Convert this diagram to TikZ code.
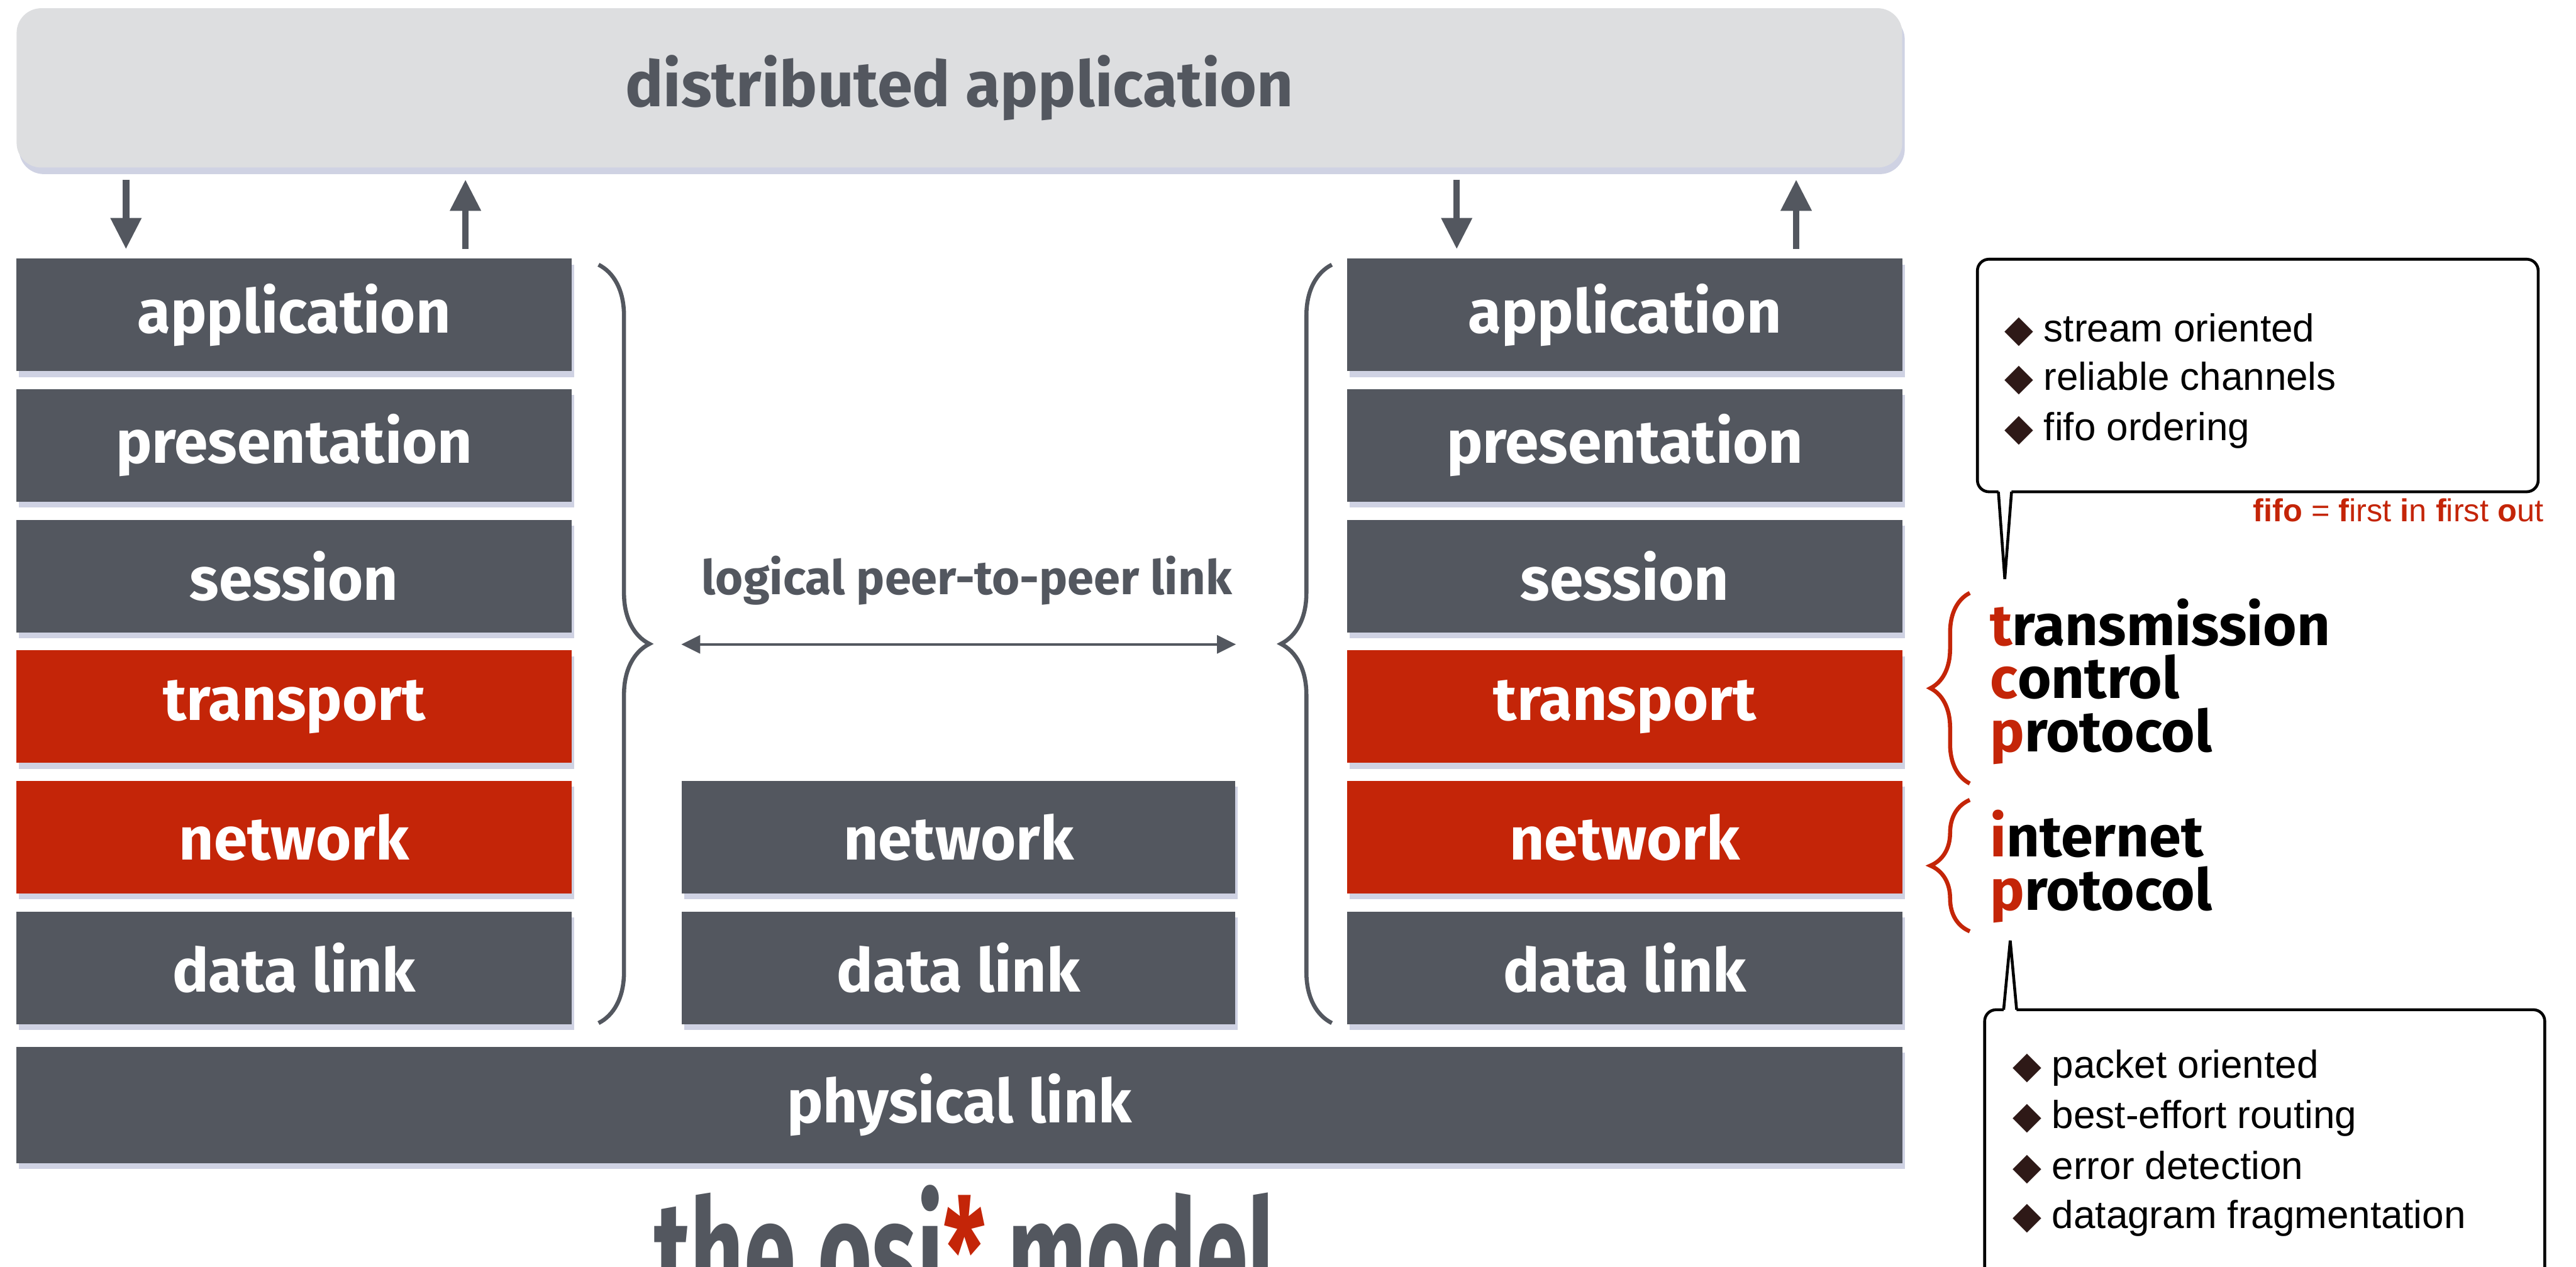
\documentclass[tikz,border=0pt]{standalone}
\usepackage{fontspec}
\usepackage{graphicx}
\setmainfont{Fira Sans}
\newfontfamily\helv{Liberation Sans}
\newfontfamily\dejavu{DejaVu Sans}
\usetikzlibrary{arrows.meta,positioning,shadows,decorations.pathreplacing}

\definecolor{osigray}{HTML}{53575F}
\definecolor{osired}{HTML}{C42508}
\definecolor{barfill}{HTML}{DDDEE0}
\definecolor{shade}{HTML}{9FA5C8}
\definecolor{diam}{HTML}{2E1917}

\newcommand{\bul}{{\dejavu\fontsize{13}{13}\selectfont\color{diam}\char"25C6}\hspace{3.5pt}}

\tikzset{
  layer/.style={fill=osigray, inner sep=0pt, minimum width=6.76cm, minimum height=1.37cm,
    text=white, font=\fontsize{21}{21}\selectfont\bfseries,
    drop shadow={shadow xshift=0.03cm, shadow yshift=-0.07cm, fill=shade, opacity=0.5}},
  hot/.style={layer, fill=osired},
  flow/.style={-{Triangle[width=0.36cm,length=0.38cm]}, line width=0.08cm, draw=osigray,
    shorten <=0.14cm, shorten >=0.11cm},
  flowup/.style={flow, {Triangle[width=0.36cm,length=0.38cm]}-},
  stackbrace/.style={decorate, decoration={brace, amplitude=0.62cm}, draw=osigray, line width=0.05cm},
  redbrace/.style={decorate, decoration={brace, amplitude=0.48cm}, draw=osired, line width=0.05cm},
  note/.style={draw=black, line width=0.035cm, rounded corners=0.14cm, fill=white, inner sep=0pt},
  item/.style={anchor=base west, inner sep=0pt, font=\helv\fontsize{13.5}{13.5}\selectfont},
  acro/.style={anchor=base west, inner sep=0pt, font=\fontsize{20}{20}\selectfont\bfseries}
}

\begin{document}
\begin{tikzpicture}[x=0.02cm,y=0.02cm]
\useasboundingbox (0,0) rectangle (1568,-771);
\clip (0,0) rectangle (1568,-771);

% distributed application
\node[fill=barfill, rounded corners=0.3cm, minimum width=22.96cm, minimum height=1.94cm,
  text=osigray, font=\fontsize{22}{22}\selectfont\bfseries,
  drop shadow={shadow xshift=0.03cm, shadow yshift=-0.08cm, fill=shade, opacity=0.5}]
  (dapp) at (584,-53.5) {distributed application};

% left stack
\node[layer] (appL) at (179,-191.75) {application};
\node[layer] (prL) at (179,-271.25) {presentation};
\node[layer] (seL) at (179,-350.75) {session};
\node[hot] (trL) at (179,-430.25) {transport};
\node[hot] (nwL) at (179,-509.75) {network};
\node[layer] (dlL) at (179,-589.25) {data link};

% router in the middle
\node[layer, minimum width=6.74cm] (nwM) at (583.5,-509.75) {network};
\node[layer, minimum width=6.74cm] (dlM) at (583.5,-589.25) {data link};

% right stack
\node[layer] (appR) at (989,-191.75) {application};
\node[layer] (prR) at (989,-271.25) {presentation};
\node[layer] (seR) at (989,-350.75) {session};
\node[hot] (trR) at (989,-430.25) {transport};
\node[hot] (nwR) at (989,-509.75) {network};
\node[layer] (dlR) at (989,-589.25) {data link};

\node[layer, minimum width=22.96cm, minimum height=1.42cm] (phys) at (584,-672.75) {physical link};

% arrows to the application
\coordinate (dnL) at ([shift={(67,0)}]appL.north west);
\coordinate (upL) at ([shift={(-65,0)}]appL.north east);
\coordinate (dnR) at ([shift={(67,0)}]appR.north west);
\coordinate (upR) at ([shift={(-65,0)}]appR.north east);
\draw[flow] (dnL |- dapp.south) -- (dnL);
\draw[flowup] (upL |- dapp.south) -- (upL);
\draw[flow] (dnR |- dapp.south) -- (dnR);
\draw[flowup] (upR |- dapp.south) -- (upR);

% braces and peer link
\draw[stackbrace] ([shift={(16,-4)}]appL.north east) -- ([shift={(16,1)}]dlL.south east);
\draw[stackbrace] ([shift={(-9,1)}]dlR.south west) -- ([shift={(-9,-4)}]appR.north west);
\node[text=osigray, font=\fontsize{16.5}{16.5}\selectfont\bfseries, anchor=base, inner sep=0pt]
  (peertxt) at (588.5,-361.8) {logical peer-to-peer link};
\coordinate (peer) at (583.5,-392.3);
\draw[{Triangle[width=0.22cm,length=0.23cm]}-{Triangle[width=0.22cm,length=0.23cm]},
  draw=osigray, line width=0.03cm] (peer -| nwM.west) -- (peer -| nwM.east);

% tcp / ip
\node[acro] (tcp1) at (1211,-393) {{\color{osired}t}ransmission};
\node[acro] (tcp2) at (1211,-425) {{\color{osired}c}ontrol};
\node[acro] (tcp3) at (1211,-457.6) {{\color{osired}p}rotocol};
\node[acro] (ip1) at (1211,-521.6) {{\color{osired}i}nternet};
\node[acro] (ip2) at (1211,-554) {{\color{osired}p}rotocol};
\coordinate (tcpTop) at (1199,-361);
\coordinate (tcpBot) at (1199,-477);
\coordinate (ipTop) at (1199,-487);
\coordinate (ipBot) at (1199,-567);
\draw[redbrace] (tcpBot) -- (tcpTop);
\draw[redbrace] (ipBot) -- (ipTop);

% tcp note
\node[note, minimum width=6.828cm, minimum height=2.832cm] (tcpnote) at (1374.3,-228.6) {};
\coordinate (tcpTip) at (1220.3,-352.5);
\fill[white] (1216.4,-298) -- (tcpTip) -- (1224.4,-298) -- cycle;
\draw[line width=0.035cm] (1216.4,-299.4) -- (tcpTip) -- (1224.4,-299.4);
\node[item] (s1) at (1220,-208) {\bul stream oriented};
\node[item] (s2) at (1220,-237.7) {\bul reliable channels};
\node[item] (s3) at (1220,-268) {\bul fifo ordering};
\node[anchor=base east, inner sep=0pt, text=osired, font=\helv\fontsize{11}{11}\selectfont]
  (fifo) at (1548.5,-317.7) {\textbf{fifo} = \textbf{f}irst \textbf{i}n \textbf{f}irst \textbf{o}ut};

% ip note
\node[note, minimum width=6.82cm, minimum height=3.706cm] (ipnote) at (1378.5,-707.35) {};
\coordinate (ipTip) at (1223.6,-572.6);
\fill[white] (1219.6,-616) -- (ipTip) -- (1227.5,-616) -- cycle;
\draw[line width=0.035cm] (1219.6,-614.7) -- (ipTip) -- (1227.5,-614.7);
\node[item] (p1) at (1225,-656.5) {\bul packet oriented};
\node[item] (p2) at (1225,-686.8) {\bul best-effort routing};
\node[item] (p3) at (1225,-717.8) {\bul error detection};
\node[item] (p4) at (1225,-748) {\bul datagram fragmentation};

% title
\node[anchor=base, inner sep=0pt, text=osigray, font=\fontsize{34}{34}\selectfont\bfseries]
  (title) at (587.5,-794) {\scalebox{0.95}[1.5]{the osi{\color{osired}*} model}};
\end{tikzpicture}
\end{document}
